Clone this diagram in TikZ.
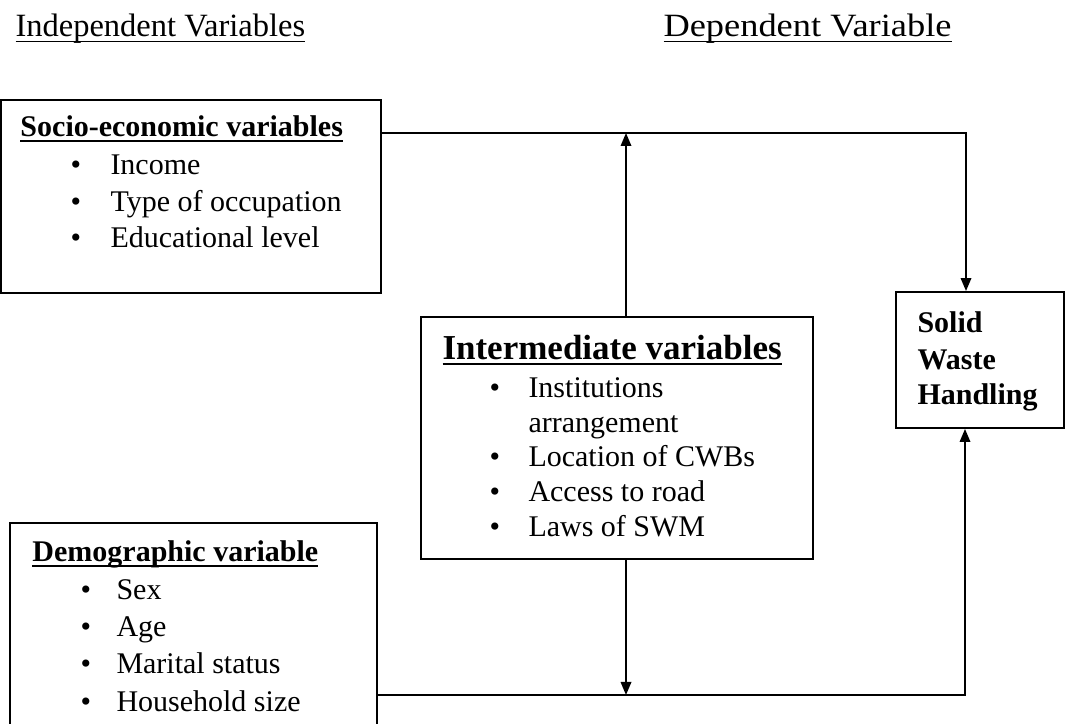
\documentclass[tikz,border=0pt]{standalone}
\usepackage{fontspec}
\setmainfont{Liberation Serif}
\usetikzlibrary{arrows.meta,fit}
\newcommand\myul[2]{\setbox0\hbox{#2}\rlap{\rule[-2.2pt]{\wd0}{#1}}\box0}
\begin{document}
\begin{tikzpicture}[x=0.4pt,y=-0.4pt,
  box/.style={draw,line width=0.75pt,inner sep=0pt},
  txt/.style={anchor=base west,inner sep=0pt,font=\fontsize{12}{14}\selectfont},
  hd/.style={anchor=base west,inner sep=0pt,font=\bfseries\fontsize{12}{14}\selectfont},
  top/.style={anchor=base west,inner sep=0pt,font=\fontsize{13}{15}\selectfont},
  conn/.style={line width=0.7pt},
  arr/.style={conn,-{Triangle[length=5.2pt,width=4.2pt]}}]
\useasboundingbox (0,0) rectangle (1066,724);
\clip (0,0) rectangle (1066,724);

% column headings
\node[top] (indep) at (15,37) {\myul{0.5pt}{Independent Variables}};
\node[top] (dep) at (663,37) {\scalebox{1.12}[1]{\myul{0.5pt}{Dependent Variable}}};

% boxes
\node[box,fit={(1,100) (381,293)}] (socio) {};
\node[box,fit={(421,317) (813,559)}] (inter) {};
\node[box,fit={(896,292) (1064,428)}] (solid) {};
\node[box,fit={(10,523) (377,745)}] (demo) {};

% socio-economic
\node[hd] (sT) at (20,137) {\myul{0.9pt}{Socio-economic variables}};
\node[txt] (sb1) at (70,175) {\textbullet};
\node[txt] (s1) at (110,175) {Income};
\node[txt] (sb2) at (70,212) {\textbullet};
\node[txt] (s2) at (110,212) {Type of occupation};
\node[txt] (sb3) at (70,248) {\textbullet};
\node[txt] (s3) at (110,248) {Educational level};

% intermediate
\node[hd,font=\bfseries\fontsize{14}{16}\selectfont] (iT) at (442,360) {\myul{1pt}{Intermediate variables}};
\node[txt] (ib1) at (489,398) {\textbullet};
\node[txt] (i1) at (528,398) {Institutions};
\node[txt] (i1b) at (528,433) {arrangement};
\node[txt] (ib2) at (489,467) {\textbullet};
\node[txt] (i2) at (528,467) {Location of CWBs};
\node[txt] (ib3) at (489,502) {\textbullet};
\node[txt] (i3) at (528,502) {Access to road};
\node[txt] (ib4) at (489,537) {\textbullet};
\node[txt] (i4) at (528,537) {Laws of SWM};

% solid waste handling
\node[hd] (w1) at (917,333) {Solid};
\node[hd] (w2) at (917,370) {Waste};
\node[hd] (w3) at (917,405) {Handling};

% demographic
\node[hd] (dT) at (32,562) {\myul{0.9pt}{Demographic variable}};
\node[txt] (db1) at (80,600) {\textbullet};
\node[txt] (d1) at (116,600) {Sex};
\node[txt] (db2) at (80,637) {\textbullet};
\node[txt] (d2) at (116,637) {Age};
\node[txt] (db3) at (80,674) {\textbullet};
\node[txt] (d3) at (116,674) {Marital status};
\node[txt] (db4) at (80,711) {\textbullet};
\node[txt] (d4) at (116,711) {Household size};

% connectors
\coordinate (j1) at (966,133);
\coordinate (up) at (626,133);
\coordinate (dn) at (626,695);
\coordinate (j2) at (965,695);
\draw[arr] (socio.east |- j1) -- (j1) -- (j1 |- solid.north);
\draw[arr] (up |- inter.north) -- (up);
\draw[arr] (dn |- inter.south) -- (dn);
\draw[arr] (demo.east |- j2) -- (j2) -- (j2 |- solid.south);
\end{tikzpicture}
\end{document}
